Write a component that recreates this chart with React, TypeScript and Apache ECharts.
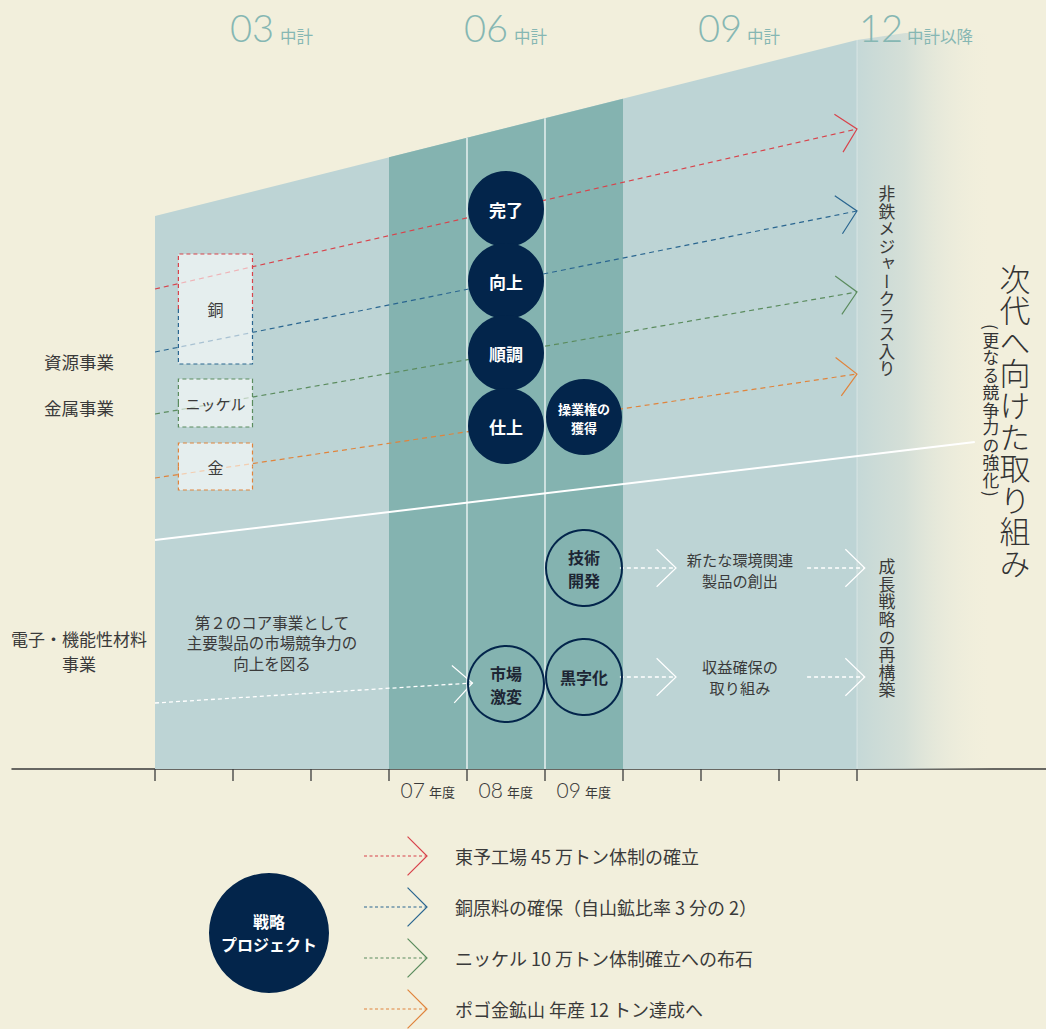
import React, { useEffect, useRef } from "react";
import * as echarts from "echarts";

// ---------------- data ----------------
// x: fiscal years (each tick = start of a fiscal year), y: vertical position (0 = top, 769 = baseline)
const X_MIN = 2002.1667;
const X_MAX = 2015.4231;
const BASE_Y = 769;

const yearTicks = [2004, 2005, 2006, 2007, 2008, 2009, 2010, 2011, 2012, 2013];
const fiscalYearLabels = ["07", "08", "09"];
const fiscalYearCenters = [2007.5, 2008.5, 2009.5];

const planNumbers = ["03", "06", "09", "12"];
const planSuffixes = ["中計", "中計", "中計", "中計以降"];

const edgeYears = [2004, 2013];
const edgeTops = [216, 40];
const bandStarts = [2004, 2007];
const bandEnds = [2013, 2010];
const fadeYears = [2013, 2013.62, 2014.75];
const fadeTops = [40, 33, 33];
const dividerYears = [2008, 2009, 2013];

const growthFrom = [2004, 540];
const growthTo = [2014.51, 442];

const segmentLabels = ["資源事業", "金属事業", "電子・機能性材料\n事業"];

const strategyNames = [
  "東予工場 45 万トン体制の確立",
  "銅原料の確保（自山鉱比率 3 分の 2）",
  "ニッケル 10 万トン体制確立への布石",
  "ポゴ金鉱山 年産 12 トン達成へ",
];
const strategyStartY = [289, 352, 414, 478];
const strategyEndY = [129, 211, 292, 374];
const strategyYears = [2004, 2013];

const metalNames = ["銅", "ニッケル", "金"];
const metalTops = [254, 379, 443];
const metalBottoms = [364, 427, 490];
const metalTopLine = [0, 2, 3];
const metalBottomLine = [1, 2, 3];
const metalYears = [2004.3, 2005.25];

const milestoneLabels = ["完了", "向上", "順調", "仕上", "操業権の\n獲得"];
const milestoneYears = [2008.5, 2008.5, 2008.5, 2008.5, 2009.5];
const milestoneY = [209, 281, 353, 426, 417];

const eventLabels = ["市場\n激変", "技術\n開発", "黒字化"];
const eventYears = [2008.5, 2009.5, 2009.5];
const eventY = [684, 568, 677];

const coreMessage = "第２のコア事業として\n主要製品の市場競争力の\n向上を図る";
const coreAt = [2005.5, 642];

const flowFromYears = [2004, 2009.96, 2012.36, 2009.96, 2012.36];
const flowFromY = [703, 568, 568, 677, 677];
const flowToYears = [2008.07, 2010.68, 2013.1, 2010.68, 2013.1];
const flowToY = [683, 568, 568, 677, 677];

const outcomeLabels = ["新たな環境関連\n製品の創出", "収益確保の\n取り組み"];
const outcomeYear = 2011.5;
const outcomeY = [569.5, 676.5];

const goalLabels = ["非鉄メジャークラス入り", "成長戦略の再構築"];
const nextTitle = "次代へ向けた取り組み";
const nextSubtitle = "(更なる競争力の強化)";
const legendTitle = "戦略\nプロジェクト";

const VERTICAL_CHARS = new Set(Array.from(goalLabels.join("") + nextTitle + nextSubtitle));

// ---------------- styles ----------------
const BG = "#F2EFDC";
const NAVY = "#03254B";
const INK = "#3A3A3A";
const HEAD = "#86B7B3";
const LIGHT_BAND = "#BDD4D5";
const DARK_BAND = "#84B3B0";
const strategyColors = ["#D8434B", "#2A6690", "#5B8C5E", "#E0843C"];
const JP = '"Noto Sans CJK JP", "Noto Sans", sans-serif';
const NUM = 'Lato, "Noto Sans", sans-serif';

const topEdge = (x: number) =>
  edgeTops[0] + ((edgeTops[1] - edgeTops[0]) * (x - edgeYears[0])) / (edgeYears[1] - edgeYears[0]);

function chevron(apex: number[], from: number[], len: number, deg: number) {
  const dx = from[0] - apex[0];
  const dy = from[1] - apex[1];
  const d = Math.hypot(dx, dy) || 1;
  const ux = dx / d;
  const uy = dy / d;
  const t = (deg * Math.PI) / 180;
  const c = Math.cos(t);
  const s = Math.sin(t);
  return [
    [apex[0] + (ux * c - uy * s) * len, apex[1] + (ux * s + uy * c) * len],
    [apex[0], apex[1]],
    [apex[0] + (ux * c + uy * s) * len, apex[1] + (-ux * s + uy * c) * len],
  ];
}

function txt(text: string, x: number, y: number, o: any = {}) {
  const align = o.align || "center";
  const va = o.va || "middle";
  return {
    type: "text",
    x,
    y,
    rotation: o.rotation || 0,
    z: o.z,
    silent: true,
    style: {
      text,
      x: 0,
      y: 0,
      fill: o.color || INK,
      fontSize: o.size || 15,
      fontFamily: o.family || JP,
      fontWeight: o.weight || "normal",
      lineHeight: o.lineHeight,
      align,
      textAlign: align,
      verticalAlign: va,
      textVerticalAlign: va,
    },
  };
}

// vertical writing: one text per character, each centred in its cell and set in vertical mode
function verticalText(text: string, cx: number, top: number, pitch: number, o: any = {}) {
  const out: any[] = [];
  let cursor = top;
  for (const ch of Array.from(text)) {
    const paren = ch === "(" || ch === ")";
    const h = paren ? pitch * 0.55 : pitch;
    out.push(
      txt(ch, cx, cursor + h / 2, {
        size: pitch - 0.7,
        weight: o.weight,
        color: o.color,
        z: 100,
      })
    );
    cursor += h;
  }
  return out;
}

function applyVerticalWriting(root: HTMLElement | null) {
  if (!root) return;
  root.querySelectorAll("text").forEach((t) => {
    const s = t.textContent || "";
    if (s.length === 1 && VERTICAL_CHARS.has(s)) {
      t.setAttribute("writing-mode", "vertical-rl");
      (t as any).style.writingMode = "vertical-rl";
    }
  });
}

function buildOption() {
  const series: any[] = [];

  // period bands (light: whole plan span, dark: 06 plan)
  series.push({
    type: "custom",
    silent: true,
    data: bandStarts.map((s, i) => [s, bandEnds[i], i]),
    renderItem: (_p: any, api: any) => {
      const s = api.value(0);
      const e = api.value(1);
      const i = api.value(2);
      const pts = [
        api.coord([s, topEdge(s)]),
        api.coord([e, topEdge(e)]),
        api.coord([e, BASE_Y]),
        api.coord([s, BASE_Y]),
      ];
      return { type: "polygon", shape: { points: pts }, style: { fill: i === 0 ? LIGHT_BAND : DARK_BAND, stroke: "none" } };
    },
  });

  // fading band beyond the 09 plan
  series.push({
    type: "custom",
    silent: true,
    data: [[fadeYears[0], fadeTops[0]]],
    renderItem: (_p: any, api: any) => {
      const pts = fadeYears.map((x, i) => api.coord([x, fadeTops[i]]));
      pts.push(api.coord([fadeYears[fadeYears.length - 1], BASE_Y]));
      pts.push(api.coord([fadeYears[0], BASE_Y]));
      return {
        type: "polygon",
        shape: { points: pts },
        style: {
          stroke: "none",
          fill: new echarts.graphic.LinearGradient(0, 0, 1, 0, [
            { offset: 0, color: "rgba(197,216,215,1)" },
            { offset: 0.35, color: "rgba(205,219,214,0.8)" },
            { offset: 1, color: "rgba(242,239,220,0)" },
          ]),
        },
      };
    },
  });

  // year dividers
  series.push({
    type: "custom",
    silent: true,
    data: dividerYears.map((x, i) => [x, BASE_Y, i]),
    renderItem: (_p: any, api: any) => {
      const x = api.value(0);
      const i = api.value(2);
      const a = api.coord([x, topEdge(x)]);
      const b = api.coord([x, BASE_Y]);
      return {
        type: "line",
        shape: { x1: a[0], y1: a[1], x2: b[0], y2: b[1] },
        style: { stroke: i === 2 ? "rgba(255,255,255,0.3)" : "#FFFFFF", lineWidth: 1.2, fill: "none" },
      };
    },
  });

  // growth boundary line
  series.push({
    type: "custom",
    silent: true,
    data: [[growthFrom[0], growthFrom[1], growthTo[0], growthTo[1]]],
    renderItem: (_p: any, api: any) => {
      const a = api.coord([api.value(0), api.value(1)]);
      const b = api.coord([api.value(2), api.value(3)]);
      return { type: "line", shape: { x1: a[0], y1: a[1], x2: b[0], y2: b[1] }, style: { stroke: "#FFFFFF", lineWidth: 2, fill: "none" } };
    },
  });

  // strategy project arrows
  series.push({
    type: "custom",
    silent: true,
    data: strategyStartY.map((y, i) => [strategyYears[0], y, strategyYears[1], strategyEndY[i], i]),
    renderItem: (_p: any, api: any) => {
      const i = api.value(4);
      const a = api.coord([api.value(0), api.value(1)]);
      const b = api.coord([api.value(2), api.value(3)]);
      const c = strategyColors[i];
      return {
        type: "group",
        children: [
          { type: "line", shape: { x1: a[0], y1: a[1], x2: b[0], y2: b[1] }, style: { stroke: c, lineWidth: 1.2, lineDash: [5, 4], fill: "none" } },
          { type: "polyline", shape: { points: chevron(b, a, 27, 46) }, style: { stroke: c, lineWidth: 1.2, fill: "none" } },
        ],
      };
    },
  });

  // metal boxes
  series.push({
    type: "custom",
    silent: true,
    data: metalNames.map((_n, i) => [metalYears[0], metalTops[i], metalYears[1], metalBottoms[i], i]),
    renderItem: (_p: any, api: any) => {
      const i = api.value(4);
      const a = api.coord([api.value(0), api.value(1)]);
      const b = api.coord([api.value(2), api.value(3)]);
      const mid = (a[1] + b[1]) / 2;
      const dash = [4, 3];
      return {
        type: "group",
        children: [
          { type: "rect", shape: { x: a[0], y: a[1], width: b[0] - a[0], height: b[1] - a[1] }, style: { fill: "rgba(255,255,255,0.6)", stroke: "none" } },
          {
            type: "polyline",
            shape: { points: [[a[0], mid], [a[0], a[1]], [b[0], a[1]], [b[0], mid]] },
            style: { stroke: strategyColors[metalTopLine[i]], lineWidth: 1.2, lineDash: dash, fill: "none" },
          },
          {
            type: "polyline",
            shape: { points: [[a[0], mid], [a[0], b[1]], [b[0], b[1]], [b[0], mid]] },
            style: { stroke: strategyColors[metalBottomLine[i]], lineWidth: 1.2, lineDash: dash, fill: "none" },
          },
          txt(metalNames[i], (a[0] + b[0]) / 2, mid, { size: i === 1 ? 15 : 16 }),
        ],
      };
    },
  });

  // white flow arrows
  series.push({
    type: "custom",
    silent: true,
    data: flowFromYears.map((x, i) => [x, flowFromY[i], flowToYears[i], flowToY[i]]),
    renderItem: (_p: any, api: any) => {
      const a = api.coord([api.value(0), api.value(1)]);
      const b = api.coord([api.value(2), api.value(3)]);
      return {
        type: "group",
        children: [
          { type: "line", shape: { x1: a[0], y1: a[1], x2: b[0], y2: b[1] }, style: { stroke: "#FFFFFF", lineWidth: 1.3, lineDash: [4, 3], fill: "none" } },
          { type: "polyline", shape: { points: chevron(b, a, 27, 44) }, style: { stroke: "#FFFFFF", lineWidth: 1.2, fill: "none" } },
        ],
      };
    },
  });

  // milestone (filled) circles
  series.push({
    type: "custom",
    silent: true,
    data: milestoneYears.map((x, i) => [x, milestoneY[i], i]),
    renderItem: (_p: any, api: any) => {
      const i = api.value(2);
      const c = api.coord([api.value(0), api.value(1)]);
      const long = milestoneLabels[i].length > 3;
      return {
        type: "group",
        children: [
          { type: "circle", shape: { cx: c[0], cy: c[1], r: 38 }, style: { fill: NAVY, stroke: "none" } },
          txt(milestoneLabels[i], c[0], c[1] + (long ? 1 : 0), {
            color: "#FFFFFF",
            size: long ? 13 : 17,
            weight: "bold",
            lineHeight: long ? 19 : 20,
          }),
        ],
      };
    },
  });

  // event (outlined) circles
  series.push({
    type: "custom",
    silent: true,
    data: eventYears.map((x, i) => [x, eventY[i], i]),
    renderItem: (_p: any, api: any) => {
      const i = api.value(2);
      const c = api.coord([api.value(0), api.value(1)]);
      return {
        type: "group",
        children: [
          { type: "circle", shape: { cx: c[0], cy: c[1], r: 38 }, style: { fill: "none", stroke: NAVY, lineWidth: 2 } },
          txt(eventLabels[i], c[0], c[1], { color: "#1D2634", size: 16, weight: "bold", lineHeight: 23 }),
        ],
      };
    },
  });

  // outcome texts + core message
  series.push({
    type: "custom",
    silent: true,
    data: [[coreAt[0], coreAt[1], -1], ...outcomeY.map((y, i) => [outcomeYear, y, i])],
    renderItem: (_p: any, api: any) => {
      const i = api.value(2);
      const c = api.coord([api.value(0), api.value(1)]);
      const text = i < 0 ? coreMessage : outcomeLabels[i];
      return txt(text, c[0], c[1], { size: i < 0 ? 15.5 : 15.2, lineHeight: i < 0 ? 20.5 : 20.2, color: INK });
    },
  });

  // axis ticks
  series.push({
    type: "custom",
    silent: true,
    data: yearTicks.map((x) => [x, BASE_Y]),
    renderItem: (_p: any, api: any) => {
      const a = api.coord([api.value(0), api.value(1)]);
      return { type: "line", shape: { x1: a[0], y1: a[1], x2: a[0], y2: a[1] + 12 }, style: { stroke: INK, lineWidth: 1.3, fill: "none" } };
    },
  });

  // fiscal-year labels
  series.push({
    type: "custom",
    silent: true,
    data: fiscalYearCenters.map((x, i) => [x, BASE_Y, i]),
    renderItem: (_p: any, api: any) => {
      const i = api.value(2);
      const c = api.coord([api.value(0), api.value(1)]);
      return {
        type: "group",
        children: [
          txt(fiscalYearLabels[i], c[0] - 3, c[1] + 20, { align: "right", size: 21, family: NUM, weight: 300, color: INK }),
          txt("年度", c[0] + 1, c[1] + 22, { align: "left", size: 13, color: INK }),
        ],
      };
    },
  });

  // ---------------- graphic (layout texts) ----------------
  const graphic: any[] = [];
  const headNumX = [230, 464, 698, 859];
  const headSufX = [280, 514, 747, 907];
  planNumbers.forEach((n, i) => {
    graphic.push(txt(n, headNumX[i], 27, { align: "left", size: 38, family: NUM, weight: 300, color: HEAD, z: 100 }));
    graphic.push(txt(planSuffixes[i], headSufX[i], 35.5, { align: "left", size: 16.5, color: HEAD, z: 100 }));
  });

  const segY = [361, 407, 650.5];
  segmentLabels.forEach((s, i) => {
    graphic.push(txt(s, 79, segY[i], { size: i === 2 ? 17 : 17.5, lineHeight: 25, color: INK, z: 100 }));
  });

  graphic.push(...verticalText(goalLabels[0], 887, 185, 17.5));
  graphic.push(...verticalText(goalLabels[1], 887, 558, 17.6));
  graphic.push(...verticalText(nextTitle, 1015, 263, 31.6, { weight: 300, color: "#333333" }));
  graphic.push(...verticalText(nextSubtitle, 991, 322, 17.5, { color: "#333333" }));

  // legend
  graphic.push({ type: "circle", z: 100, silent: true, shape: { cx: 269, cy: 933, r: 60 }, style: { fill: NAVY } });
  graphic.push(txt(legendTitle, 269, 932, { color: "#FFFFFF", size: 16, weight: "bold", lineHeight: 23, z: 101 }));
  strategyNames.forEach((name, i) => {
    const y = 856 + i * 51;
    const apex = [427, y];
    const from = [364, y];
    graphic.push({
      type: "line",
      z: 100,
      silent: true,
      shape: { x1: from[0], y1: y, x2: apex[0], y2: y },
      style: { stroke: strategyColors[i], lineWidth: 1.2, lineDash: [3, 2.5] },
    });
    graphic.push({
      type: "polyline",
      z: 100,
      silent: true,
      shape: { points: chevron(apex, from, 27.5, 45) },
      style: { stroke: strategyColors[i], lineWidth: 1.2, fill: "none" },
    });
    graphic.push(txt(name, 455, y, { align: "left", size: 18, color: INK, z: 100 }));
  });

  return {
    animation: false,
    backgroundColor: BG,
    grid: { left: 12, right: 0, top: 0, height: BASE_Y },
    xAxis: {
      type: "value",
      min: X_MIN,
      max: X_MAX,
      axisLine: { show: true, onZero: false, lineStyle: { color: INK, width: 1.5 } },
      axisTick: { show: false },
      axisLabel: { show: false },
      splitLine: { show: false },
    },
    yAxis: { type: "value", min: 0, max: BASE_Y, inverse: true, show: false, splitLine: { show: false } },
    series,
    graphic: { elements: graphic },
  };
}

export default function App() {
  const ref = useRef<HTMLDivElement>(null);
  useEffect(() => {
    document.body.style.margin = "0";
    document.body.style.background = BG;
    const chart = echarts.init(ref.current!, undefined, { renderer: "svg" });
    const apply = () => applyVerticalWriting(ref.current);
    chart.on("finished", apply);
    chart.setOption(buildOption() as any);
    apply();
    return () => chart.dispose();
  }, []);
  return <div ref={ref} style={{ width: 1046, height: 1029 }} />;
}
